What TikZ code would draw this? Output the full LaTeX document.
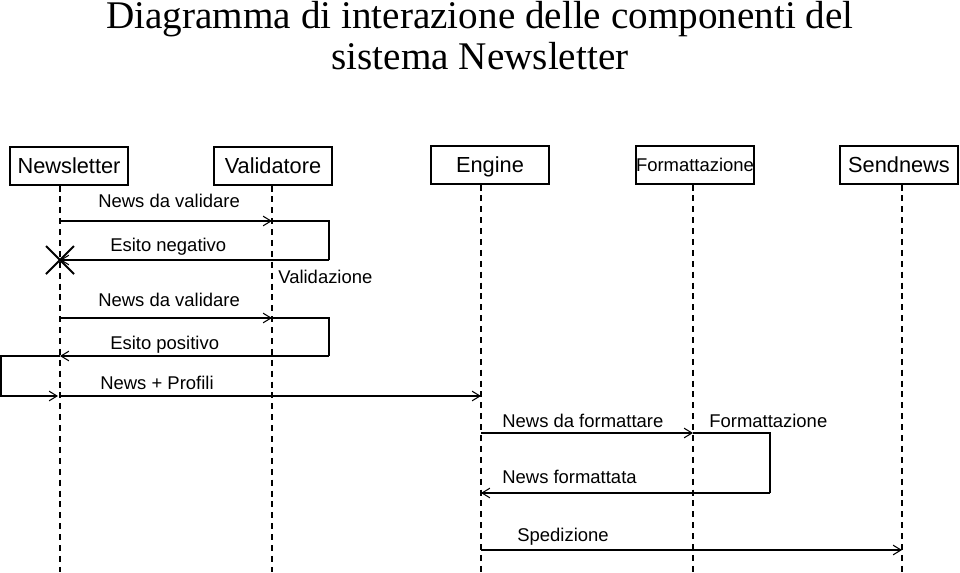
\documentclass[tikz,border=0pt]{standalone}
\usepackage{fontspec}
\setmainfont{Liberation Serif}
\setsansfont{Liberation Sans}
\usetikzlibrary{arrows.meta,positioning,calc}

\begin{document}
\begin{tikzpicture}[x=0.02cm, y=-0.02cm,
    obj/.style={draw, semithick, minimum width=2.36cm, minimum height=0.76cm, inner sep=0pt,
      text depth=0pt, font=\sffamily\fontsize{12.4}{14}\selectfont},
    life/.style={semithick, dash pattern=on 3.4pt off 2.8pt},
    msg/.style={semithick, -{Straight Barb[length=4.5pt,width=5.5pt]}},
    wire/.style={semithick},
    lbl/.style={anchor=base west, inner sep=0pt, font=\sffamily\fontsize{10.5}{12}\selectfont}]
  \useasboundingbox (0,0) rectangle (960,572);

  % Title
  \node[anchor=base, inner sep=0pt, font=\fontsize{22.3}{24}\selectfont] (title1) at (480,28)
    {Diagramma di interazione delle componenti del};
  \node[anchor=base, inner sep=0pt, font=\fontsize{22.3}{24}\selectfont] (title2) at (480,69)
    {sistema Newsletter};

  % Objects
  \node[obj] (nl) at (69,166) {Newsletter};
  \node[obj] (val) at (273,166) {Validatore};
  \node[obj] (eng) at (490,165) {Engine};
  \node[obj, font=\sffamily\fontsize{10.5}{12}\selectfont] (fmt) at (695,165) {Formattazione};
  \node[obj] (snd) at (899,165) {Sendnews};

  % Lifelines
  \coordinate (nlEnd) at (60,572);
  \coordinate (valEnd) at (272,572);
  \coordinate (engEnd) at (481,572);
  \coordinate (fmtEnd) at (693,572);
  \coordinate (sndEnd) at (902,572);
  \draw[life] (nl.south -| nlEnd) -- (nlEnd);
  \draw[life] (val.south -| valEnd) -- (valEnd);
  \draw[life] (eng.south -| engEnd) -- (engEnd);
  \draw[life] (fmt.south -| fmtEnd) -- (fmtEnd);
  \draw[life] (snd.south -| sndEnd) -- (sndEnd);

  % First validation (negative)
  \coordinate (v1a) at (60,221);
  \coordinate (v1b) at (272,221);
  \coordinate (v1c) at (329,221);
  \coordinate (v1d) at (329,260);
  \coordinate (v1e) at (60,260);
  \draw[msg] (v1a) -- (v1b);
  \draw[wire] (v1b) -- (v1c) -- (v1d);
  \draw[msg] (v1d) -- (v1e);
  \node[lbl] (m1) at (98,207) {News da validare};
  \node[lbl] (m2) at (110,251) {Esito negativo};
  \draw[line width=1.2pt] ($(v1e)+(-14,-14)$) -- ($(v1e)+(14,14)$);
  \draw[line width=1.2pt] ($(v1e)+(-14,14)$) -- ($(v1e)+(14,-14)$);
  \node[lbl] (valid) at (278,283) {Validazione};

  % Second validation (positive)
  \coordinate (v2a) at (60,318);
  \coordinate (v2b) at (272,318);
  \coordinate (v2c) at (329,318);
  \coordinate (v2d) at (329,356);
  \coordinate (v2e) at (60,356);
  \draw[msg] (v2a) -- (v2b);
  \draw[wire] (v2b) -- (v2c) -- (v2d);
  \draw[msg] (v2d) -- (v2e);
  \node[lbl] (m3) at (98,306) {News da validare};
  \node[lbl] (m4) at (110,349) {Esito positivo};

  % News + Profili
  \coordinate (lp1) at (1,356);
  \coordinate (lp2) at (1,396);
  \coordinate (lp3) at (58,396);
  \coordinate (np1) at (60,396);
  \coordinate (np2) at (481,396);
  \draw[msg] (v2e) -- (lp1) -- (lp2) -- (lp3);
  \draw[msg] (np1) -- (np2);
  \node[lbl] (m5) at (100,389) {News + Profili};

  % Formatting
  \coordinate (f1a) at (481,433);
  \coordinate (f1b) at (693,433);
  \coordinate (f1c) at (770,433);
  \coordinate (f1d) at (770,493);
  \coordinate (f1e) at (481,493);
  \draw[msg] (f1a) -- (f1b);
  \draw[wire] (f1b) -- (f1c) -- (f1d);
  \draw[msg] (f1d) -- (f1e);
  \node[lbl] (m6) at (502,427) {News da formattare};
  \node[lbl] (form) at (709,427) {Formattazione};
  \node[lbl] (m7) at (502,483) {News formattata};

  % Sending
  \coordinate (s1a) at (481,550);
  \coordinate (s1b) at (902,550);
  \draw[msg] (s1a) -- (s1b);
  \node[lbl] (m8) at (517,541) {Spedizione};
\end{tikzpicture}
\end{document}
